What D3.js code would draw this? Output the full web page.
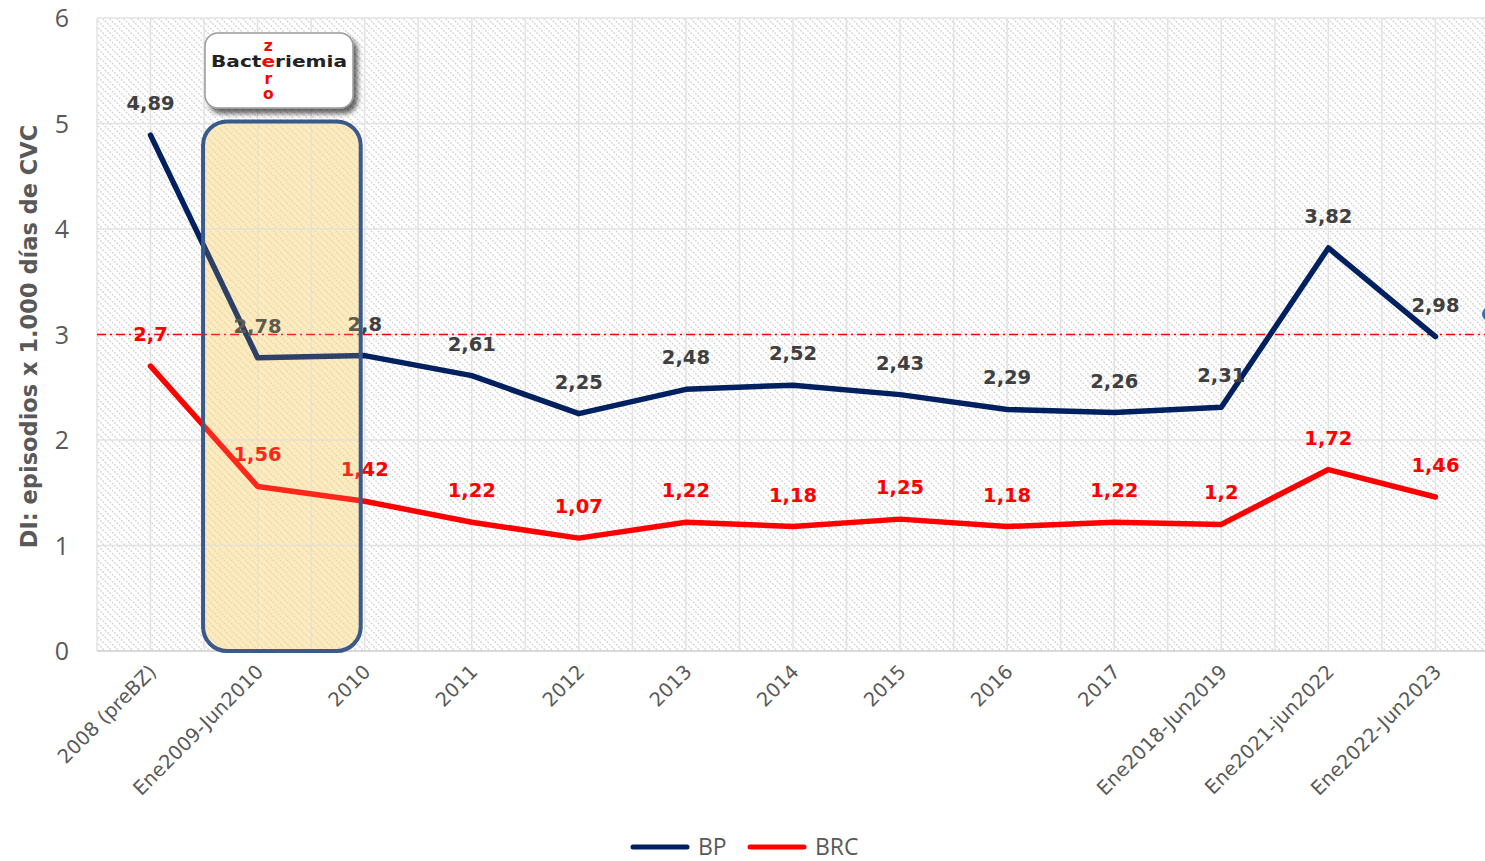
<!DOCTYPE html>
<html><head><meta charset="utf-8">
<script src="https://cdn.jsdelivr.net/npm/d3@7"></script>
<style>body{margin:0;background:#fff}svg{display:block}</style>
</head><body>
<script>
const categories = ["2008 (preBZ)","Ene2009-Jun2010","2010","2011","2012","2013","2014","2015","2016","2017","Ene2018-Jun2019","Ene2021-jun2022","Ene2022-Jun2023"];
const bpValues  = [4.89,2.78,2.8,2.61,2.25,2.48,2.52,2.43,2.29,2.26,2.31,3.82,2.98];
const brcValues = [2.7,1.56,1.42,1.22,1.07,1.22,1.18,1.25,1.18,1.22,1.2,1.72,1.46];
const yTicks = [0,1,2,3,4,5,6];
const seriesNames = ["BP","BRC"];
const seriesColors = ["#002060","#ff0000"];
const referenceValue = 3;
const yTitle = "DI: episodios x 1.000 días de CVC";

const W = 1485, H = 861;
const m = {left:97, right:-4, top:18, bottom:210};
const svg = d3.select("body").append("svg").attr("width",W).attr("height",H);
const defs = svg.append("defs");
function hatch(id, bg, fg){
  const p = defs.append("pattern").attr("id",id).attr("patternUnits","userSpaceOnUse").attr("width",7).attr("height",7);
  p.append("rect").attr("width",7).attr("height",7).attr("fill",bg);
  p.append("path").attr("d","M0,0 L7,7 M-3.5,3.5 L3.5,10.5 M3.5,-3.5 L10.5,3.5").attr("stroke",fg).attr("stroke-width",1.2).attr("stroke-dasharray","1.8,1.4");
}
hatch("hatch","#fff","#cfcfcf");
hatch("hatch2","#fdf0cc","#e9d6aa");
const sh = defs.append("filter").attr("id","shadow").attr("x","-20%").attr("y","-20%").attr("width","150%").attr("height","160%");
sh.append("feDropShadow").attr("dx",4).attr("dy",5).attr("stdDeviation",2.5).attr("flood-color","#000").attr("flood-opacity",0.6);

const x = d3.scaleBand().domain(categories).range([m.left, W - m.right]);
const y = d3.scaleLinear().domain([0,6]).range([H - m.bottom, m.top]);
const cx = c => x(c) + x.bandwidth()/2;
const x0 = m.left, x1 = W - m.right;

// plot background
svg.append("rect").attr("x",x0).attr("y",y(6)).attr("width",x1-x0).attr("height",y(0)-y(6)).attr("fill","url(#hatch)");

// highlight box base (under lines)
const boxX0 = x(categories[1]) - 1, boxX1 = cx(categories[2]) - 4;
const boxY0 = y(5.02), boxY1 = y(0);
svg.append("rect").attr("x",boxX0).attr("y",boxY0).attr("width",boxX1-boxX0).attr("height",boxY1-boxY0)
  .attr("rx",24).attr("fill","url(#hatch2)");

// gridlines
const grid = svg.append("g").attr("stroke","#e3e3e3").attr("stroke-width",1.5);
yTicks.forEach(t => grid.append("line").attr("x1",x0).attr("x2",x1).attr("y1",y(t)).attr("y2",y(t)));
categories.forEach(c => {
  grid.append("line").attr("x1",x(c)).attr("x2",x(c)).attr("y1",y(6)).attr("y2",y(0));
  grid.append("line").attr("x1",cx(c)).attr("x2",cx(c)).attr("y1",y(6)).attr("y2",y(0));
});
svg.append("line").attr("x1",x0).attr("x2",x1).attr("y1",y(0)).attr("y2",y(0)).attr("stroke","#d9d9d9").attr("stroke-width",2);

// reference line
svg.append("line").attr("x1",x0).attr("x2",x1).attr("y1",y(referenceValue)).attr("y2",y(referenceValue))
  .attr("stroke","#ff0000").attr("stroke-width",1.5).attr("stroke-dasharray","9,4,2,4");

// y axis
const yAxis = d3.axisLeft(y).tickValues(yTicks).tickFormat(d3.format("d")).tickSize(0).tickPadding(0);
const ya = svg.append("g").attr("transform",`translate(${x0-28},0)`).call(yAxis);
ya.select(".domain").remove();
ya.selectAll("text").attr("font-family","'Open Sans', sans-serif").attr("font-size",25).attr("fill","#595959").attr("dy","0.35em");

// x axis labels
const xa = svg.append("g");
categories.forEach(c => {
  xa.append("text").attr("transform",`translate(${cx(c)+7},${y(0)+22}) rotate(-45)`)
    .attr("text-anchor","end").attr("font-family","'DejaVu Sans', sans-serif").attr("font-size",19.5)
    .attr("fill","#595959").text(c);
});

// y title
svg.append("text").attr("transform",`translate(37,${(y(6)+y(0))/2 + 2}) rotate(-90)`).attr("text-anchor","middle")
  .attr("font-family","'DejaVu Sans', sans-serif").attr("font-weight","bold").attr("font-size",22.5).attr("fill","#595959").text(yTitle);

// lines
const allSeries = [bpValues, brcValues];
const line = d3.line().x((d,i)=>cx(categories[i])).y(d=>y(d));
allSeries.forEach((vals,k) => {
  svg.append("path").attr("d",line(vals)).attr("fill","none").attr("stroke",seriesColors[k])
    .attr("stroke-width",5.5).attr("stroke-linecap","round").attr("stroke-linejoin","round");
});

// data labels
const labelColors = ["#404040","#ff0000"];
allSeries.forEach((vals,k) => {
  svg.append("g").selectAll("text").data(vals).join("text")
    .attr("x",(d,i)=>cx(categories[i])).attr("y",d=>y(d)-25)
    .attr("text-anchor","middle").attr("font-family","'DejaVu Sans', sans-serif").attr("font-weight","bold")
    .attr("font-size",19.5).attr("fill",labelColors[k]).text(d=>String(d).replace(".",","));
});

// highlight box overlay
svg.append("rect").attr("x",boxX0).attr("y",boxY0).attr("width",boxX1-boxX0).attr("height",boxY1-boxY0)
  .attr("rx",24).attr("fill","#fcd98a").attr("fill-opacity",0.18).attr("stroke","#3a5a8a").attr("stroke-width",4);

// logo
const lg = svg.append("g");
lg.append("rect").attr("x",205).attr("y",33).attr("width",148).attr("height",75).attr("rx",13)
  .attr("fill","#fff").attr("stroke","#9a9a9a").attr("stroke-width",1.5).attr("filter","url(#shadow)");
const lt = lg.append("text").attr("x",279).attr("y",67).attr("text-anchor","middle")
  .attr("font-family","'DejaVu Sans', sans-serif").attr("font-weight","bold").attr("font-size",16).attr("fill","#222").attr("textLength",136).attr("lengthAdjust","spacingAndGlyphs");
lt.append("tspan").text("Bact");
lt.append("tspan").attr("fill","#ff0000").text("e");
lt.append("tspan").text("riemia");
let ex = 268;
try { const b = lt.node().getExtentOfChar(4); ex = b.x + b.width/2; } catch(e) {}
[["z",51],["r",84],["o",99]].forEach(([ch,yy]) => {
  lg.append("text").attr("x",ex).attr("y",yy).attr("text-anchor","middle").attr("font-family","'DejaVu Sans', sans-serif")
    .attr("font-weight","bold").attr("font-size",15.5).attr("fill","#ff0000").text(ch);
});

// cut-off blue mark at right edge
svg.append("circle").attr("cx",1489).attr("cy",314).attr("r",7).attr("fill","#2e75b6");

// legend
const leg = svg.append("g");
const legX = [633, 750];
seriesNames.forEach((n,k) => {
  leg.append("line").attr("x1",legX[k]).attr("x2",legX[k]+54).attr("y1",847).attr("y2",847)
    .attr("stroke",seriesColors[k]).attr("stroke-width",5).attr("stroke-linecap","round");
  leg.append("text").attr("x",legX[k]+65).attr("y",855).attr("font-family","'Open Sans', sans-serif")
    .attr("font-size",23).attr("fill","#595959").text(n);
});
</script>
</body></html>
